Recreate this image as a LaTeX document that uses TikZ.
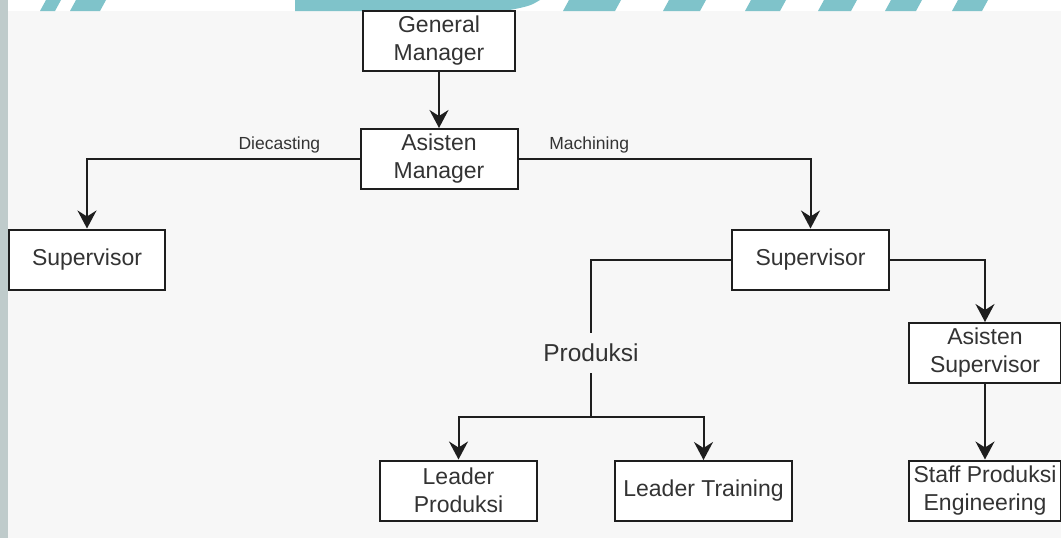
\documentclass[tikz,border=0pt]{standalone}
\usepackage{fontspec}
\setmainfont{Liberation Sans}
\usetikzlibrary{arrows.meta}
\definecolor{paper}{HTML}{F7F7F7}
\definecolor{stripe}{HTML}{7FC3CA}
\definecolor{rim}{HTML}{BFCBCB}
\definecolor{ink}{HTML}{1E1E1E}
\definecolor{txt}{HTML}{333333}

\begin{document}
\begin{tikzpicture}[x=1pt,y=-1pt]
\tikzstyle{post}=[
  draw=ink, fill=white, line width=2pt,
  minimum height=60pt, inner sep=0pt, align=center,
  text=txt, font=\fontsize{23}{28}\selectfont ]
\tikzstyle{branch}=[text=txt, inner sep=2pt, font=\fontsize{17.5}{20}\selectfont]
\tikzstyle{link}=[draw=ink, line width=2pt]
\tikzstyle{arr}=[link, -{Stealth[length=18pt,width=19pt,inset=6pt]}]
\useasboundingbox (0,0) rectangle (1061,538);
\fill[paper] (0,0) rectangle (1061,538);
\fill[white] (0,0) rectangle (1061,11);
\foreach \a/\b in {40/55, 70/100, 563/615, 663/700, 745/780, 818/851, 885/916, 952/982}
  \fill[stripe] (\a,11) -- (\a+6,0) -- (\b+6,0) -- (\b,11) -- cycle;
\fill[stripe] (295,11) -- (295,0) -- (540,0) .. controls (530,6) .. (505,11) -- cycle;
\fill[rim] (0,0) rectangle (8,538);
\node[post, minimum width=152pt] (gm) at (439,41) {General\\Manager};
\node[post, minimum width=157pt] (am) at (439,159) {Asisten\\Manager};
\node[post, minimum width=156pt] (supd) at (87,259.5) {Supervisor};
\node[post, minimum width=157pt] (supm) at (810.5,259.5) {Supervisor};
\node[post, minimum width=152pt] (asup) at (985,353) {Asisten\\Supervisor};
\node[post, minimum width=152pt] (staff) at (985,490.5) {Staff Produksi\\Engineering};
\node[post, minimum width=157pt] (lprod) at (458.5,490.5) {Leader\\Produksi};
\node[post, minimum width=177pt] (ltrain) at (703.5,491) {Leader Training};
\node[text=txt, minimum height=40pt, inner sep=0pt, font=\fontsize{24.5}{28}\selectfont] (prod) at (591,353) {Produksi};
\coordinate (split) at (591,417);
\draw[arr] (gm) -- (am);
\draw[arr] (am.west) -| (supd.north) node[branch, pos=0.147, above=3pt] (die) {Diecasting};
\draw[arr] (am.east) -| (supm.north) node[branch, pos=0.121, above=3pt] (mach) {Machining};
\draw[link] (supm.west) -| (prod.north);
\draw[link] (prod.south) -- (split);
\draw[arr] (split) -| (lprod.north);
\draw[arr] (split) -| (ltrain.north);
\draw[arr] (supm.east) -| (asup.north);
\draw[arr] (asup) -- (staff);
\end{tikzpicture}
\end{document}
